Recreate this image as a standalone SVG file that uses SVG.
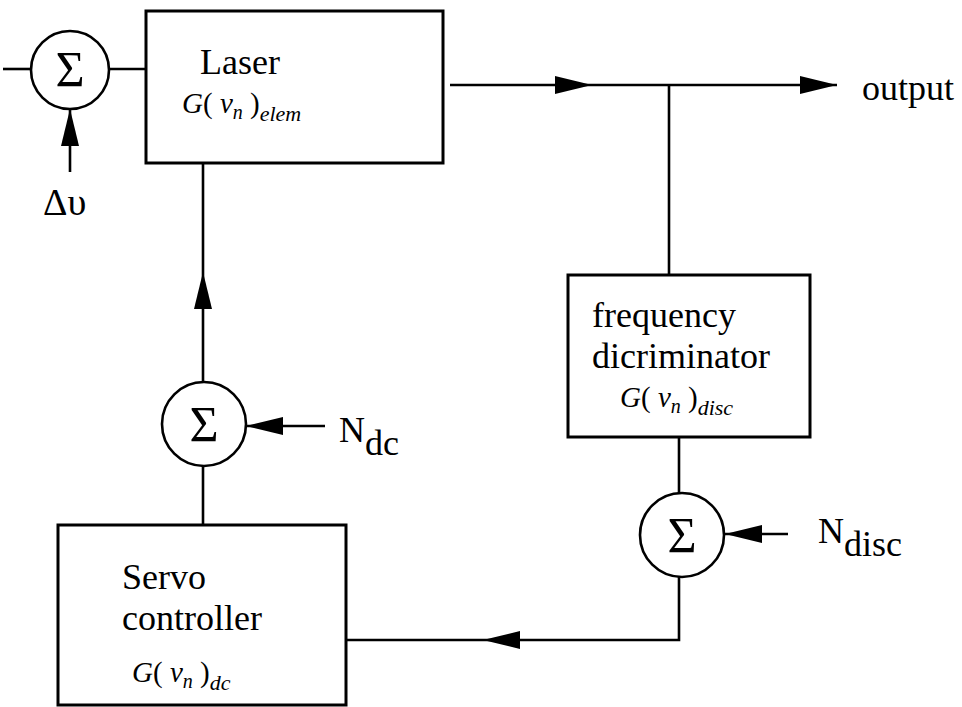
<svg xmlns="http://www.w3.org/2000/svg" xmlns:xlink="http://www.w3.org/1999/xlink" width="962" height="707" viewBox="0 0 962 707">
<style>
.box{fill:#fff;stroke:#000;stroke-width:3}
.sum{fill:#fff;stroke:#000;stroke-width:2.6}
.ln{fill:none;stroke:#000;stroke-width:2.6}
.t{font-family:'Liberation Serif','DejaVu Serif',serif;fill:#000}
.big{font-size:36px}
.g{font-size:29px}
.it{font-style:italic}
.sig{font-size:50px;text-anchor:middle}
</style>
<defs>
<path id="ah" d="M0,0 L-37,-9 L-37,9 Z" fill="#000"/>
</defs>
<rect width="962" height="707" fill="#fff"/>
<g id="connectors">
<path class="ln" d="M3,69 H31"/>
<path class="ln" d="M109,69 H146"/>
<path class="ln" d="M70,172 V109"/>
<use xlink:href="#ah" transform="translate(70,109) rotate(-90)"/>
<path class="ln" d="M203,163 V382"/>
<use xlink:href="#ah" transform="translate(203,272) rotate(-90)"/>
<path class="ln" d="M203,466 V525"/>
<path class="ln" d="M325,426 H246"/>
<use xlink:href="#ah" transform="translate(246,426) rotate(180)"/>
<path class="ln" d="M450,85 H837"/>
<use xlink:href="#ah" transform="translate(592,85)"/>
<use xlink:href="#ah" transform="translate(837,85)"/>
<path class="ln" d="M669,85 V275"/>
<path class="ln" d="M679,437 V494"/>
<path class="ln" d="M788,534 H725"/>
<use xlink:href="#ah" transform="translate(725,534) rotate(180)"/>
<path class="ln" d="M679,576 V640 H346"/>
<use xlink:href="#ah" transform="translate(483,640) rotate(180)"/>
</g>
<g id="sum-in">
<circle class="sum" cx="70" cy="70" r="39"/>
<text class="t sig" x="70" y="86">Σ</text>
</g>
<g id="delta-nu">
<text class="t" x="43" y="215" font-size="38">Δυ</text>
</g>
<g id="laser">
<rect class="box" x="146" y="11" width="297" height="152"/>
<text class="t big" x="200" y="74">Laser</text>
<text class="t g" x="182" y="113"><tspan class="it">G</tspan>( <tspan class="it">ν</tspan><tspan class="it" font-size="20" dy="6">n</tspan><tspan dy="-6"> )</tspan><tspan class="it" font-size="22" dy="8">elem</tspan></text>
</g>
<g id="output">
<text class="t big" x="862" y="100">output</text>
</g>
<g id="freq-disc">
<rect class="box" x="568" y="275" width="242" height="162"/>
<text class="t big" x="592" y="327">frequency</text>
<text class="t big" x="592" y="368">dicriminator</text>
<text class="t g" x="620" y="407"><tspan class="it">G</tspan>( <tspan class="it">ν</tspan><tspan class="it" font-size="20" dy="6">n</tspan><tspan dy="-6"> )</tspan><tspan class="it" font-size="22" dy="8">disc</tspan></text>
</g>
<g id="sum-disc">
<circle class="sum" cx="682" cy="535" r="42"/>
<text class="t sig" x="682" y="552">Σ</text>
</g>
<g id="n-disc">
<text class="t big" x="818" y="543">N<tspan dy="13">disc</tspan></text>
</g>
<g id="sum-dc">
<circle class="sum" cx="204" cy="424" r="42"/>
<text class="t sig" x="204" y="441">Σ</text>
</g>
<g id="n-dc">
<text class="t big" x="339" y="442">N<tspan dy="13">dc</tspan></text>
</g>
<g id="servo">
<rect class="box" x="58" y="525" width="288" height="180"/>
<text class="t big" x="122" y="589">Servo</text>
<text class="t big" x="122" y="630">controller</text>
<text class="t g" x="132" y="682"><tspan class="it">G</tspan>( <tspan class="it">ν</tspan><tspan class="it" font-size="20" dy="6">n</tspan><tspan dy="-6"> )</tspan><tspan class="it" font-size="22" dy="8">dc</tspan></text>
</g>
</svg>
